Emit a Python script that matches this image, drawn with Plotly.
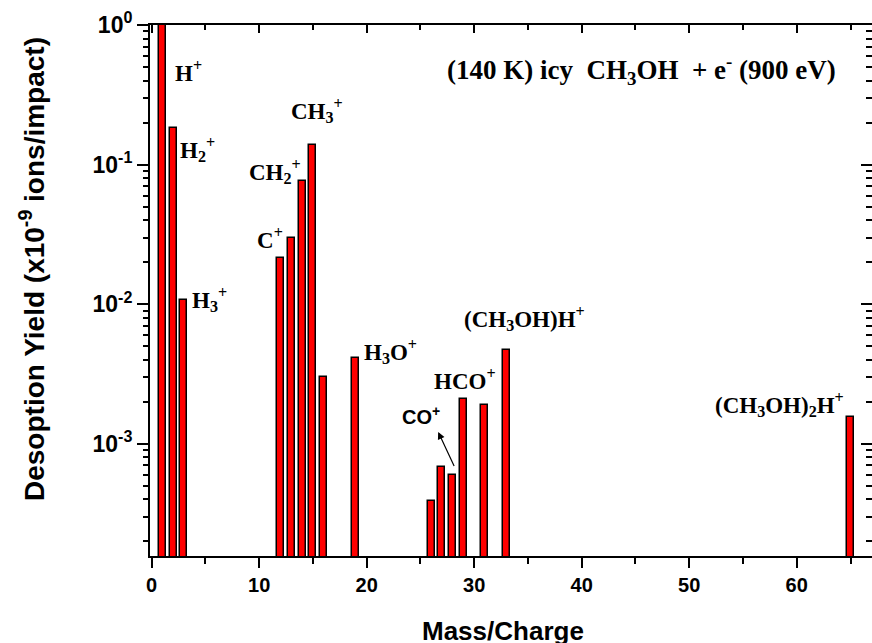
import plotly.graph_objects as go
import numpy as np

# ---- data ----
mass = [1, 2, 3, 12, 13, 14, 15, 16, 19, 26, 27, 28, 29, 31, 33, 65]
yield_vals = [1.0, 0.184, 0.0107, 0.0213, 0.0299, 0.0763, 0.138, 0.00301,
              0.00409, 0.000391, 0.000685, 0.000598, 0.00208, 0.0019, 0.0047, 0.00156]

y_tick_vals = [1, 0.1, 0.01, 0.001]
y_tick_text = ["10<sup>0</sup>", "10<sup>-1</sup>", "10<sup>-2</sup>", "10<sup>-3</sup>"]
y_minor_vals = [m * 10.0 ** e for e in (-4, -3, -2, -1) for m in range(2, 10)]

# labels: text, left edge x (mass units), log10(y)
ion_labels = [
    ("H<sup>+</sup>", 2.0, -0.33),
    ("H<sub>2</sub><sup>+</sup>", 2.45, -0.89),
    ("H<sub>3</sub><sup>+</sup>", 3.6, -1.97),
    ("CH<sub>3</sub><sup>+</sup>", 12.8, -0.61),
    ("CH<sub>2</sub><sup>+</sup>", 8.9, -1.05),
    ("C<sup>+</sup>", 9.6, -1.53),
    ("H<sub>3</sub>O<sup>+</sup>", 19.6, -2.34),
    ("HCO<sup>+</sup>", 26.1, -2.54),
    ("(CH<sub>3</sub>OH)H<sup>+</sup>", 28.9, -2.10),
    ("(CH<sub>3</sub>OH)<sub>2</sub>H<sup>+</sup>", 52.2, -2.72),
]
title_text = "(140 K) icy&nbsp; CH<sub>3</sub>OH&nbsp; + e<sup>-</sup> (900 eV)"

XR = [-0.15, 67.0]
YR = [np.log10(1.57e-4), 0]

serif = dict(family="Liberation Serif", size=23, color="black", weight="bold")
xtickfont = dict(family="Liberation Sans", size=20, color="black", weight="bold")
ytickfont = dict(family="Liberation Sans", size=23, color="black", weight="bold")

fig = go.Figure()
fig.add_trace(go.Bar(
    x=mass, y=yield_vals, width=0.65,
    marker=dict(color="#FF0000", line=dict(color="black", width=1.5)),
    showlegend=False,
))
# dummy trace to create mirrored top/right axes
fig.add_trace(go.Scatter(x=[None], y=[None], xaxis="x2", yaxis="y2", showlegend=False))

fig.update_layout(
    width=872, height=643,
    margin=dict(l=150, r=0, t=25, b=87),
    paper_bgcolor="white", plot_bgcolor="white",
    bargap=0,
    xaxis=dict(range=XR, showgrid=False, zeroline=False, showline=True, linecolor="black", linewidth=2,
               ticks="outside", ticklen=10, tickwidth=2, tickcolor="black", dtick=10, tick0=0,
               tickfont=xtickfont,
               minor=dict(ticks="outside", ticklen=6, tickwidth=2, tickcolor="black", dtick=5, tick0=0)),
    yaxis=dict(type="log", range=YR, showgrid=False, zeroline=False, showline=True, linecolor="black", linewidth=2,
               ticks="outside", ticklen=11, tickwidth=2, tickcolor="black",
               tickvals=y_tick_vals, ticktext=y_tick_text, tickfont=ytickfont,
               minor=dict(ticks="outside", ticklen=5, tickwidth=2, tickcolor="black", tickvals=y_minor_vals)),
    xaxis2=dict(overlaying="x", side="top", anchor="y2", range=XR, showgrid=False, zeroline=False,
                showline=True, linecolor="black", linewidth=2, showticklabels=False,
                ticks="inside", ticklen=8, tickwidth=2, tickcolor="black", dtick=10, tick0=0,
                minor=dict(ticks="inside", ticklen=5, tickwidth=2, tickcolor="black", dtick=5, tick0=0)),
    yaxis2=dict(overlaying="y", side="right", anchor="x2", type="log", range=YR, showgrid=False, zeroline=False,
                showline=False, showticklabels=False,
                ticks="inside", ticklen=11, tickwidth=2, tickcolor="black", tickvals=y_tick_vals,
                minor=dict(ticks="inside", ticklen=6, tickwidth=2, tickcolor="black", tickvals=y_minor_vals)),
)

for text, xv, ly in ion_labels:
    fig.add_annotation(x=xv, y=ly, xref="x", yref="y", text=text, showarrow=False,
                       font=serif, xanchor="left", yanchor="middle")

fig.add_annotation(x=25.05, y=-2.80, xref="x", yref="y", text="CO<sup>+</sup>", showarrow=False,
                   font=dict(family="Liberation Sans", size=20, color="black", weight="bold"),
                   xanchor="center", yanchor="middle")
# arrow from CO+ bar to label
fig.add_annotation(x=26.65, y=-2.915, xref="x", yref="y", ax=28.2, ay=-3.17, axref="x", ayref="y",
                   text="", showarrow=True, arrowhead=2, arrowsize=1.2, arrowwidth=1.2, arrowcolor="black")

fig.add_annotation(x=45.6, y=-0.32, xref="x", yref="y", text=title_text, showarrow=False,
                   font=dict(family="Liberation Serif", size=27, color="black", weight="bold"),
                   xanchor="center", yanchor="middle")

fig.add_annotation(x=(32 - 150) / 722, y=(556 - 269) / 531, xref="paper", yref="paper",
                   text="Desoption Yield (x10<sup>-9</sup> ions/impact)", textangle=-90, showarrow=False,
                   font=dict(family="Liberation Sans", size=28, color="black", weight="bold"),
                   xanchor="center", yanchor="middle")
fig.add_annotation(x=(503 - 150) / 722, y=(556 - 614) / 531, xref="paper", yref="paper",
                   text="Mass/Charge", showarrow=False,
                   font=dict(family="Liberation Sans", size=26, color="black", weight="bold"),
                   xanchor="center", yanchor="top")

fig.write_html("out.html", config={"displayModeBar": False},
               post_script="document.body.style.margin='0';document.body.style.overflow='hidden';")
